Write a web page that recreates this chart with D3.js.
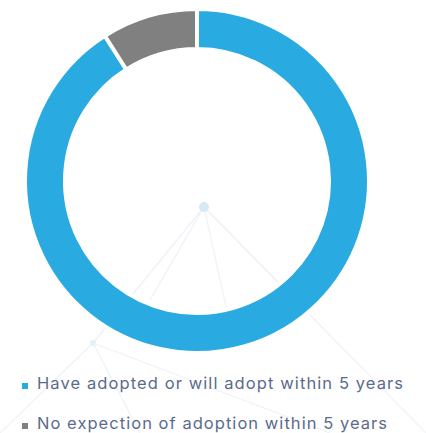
<!DOCTYPE html>
<html>
<head>
<meta charset="utf-8">
<script src="https://cdn.jsdelivr.net/npm/d3@7"></script>
<style>
  html, body { margin: 0; padding: 0; background: #fff; }
  svg { display: block; }
</style>
</head>
<body>
<svg id="chart"></svg>
<script>
const categories = ['Have adopted or will adopt within 5 years', 'No expection of adoption within 5 years'];
const values = [91, 9];
const colors = ['#29abe2', '#808080'];

const width = 426, height = 433;
const cx = 197, cy = 181;

const svg = d3.select('#chart')
    .attr('width', width)
    .attr('height', height);

// faint background network decoration
const deco = svg.append('g')
    .attr('stroke', '#eef2f7')
    .attr('stroke-width', 1.2)
    .attr('fill', 'none');
const hub = [204, 207];
[[150, 300], [93, 343], [236, 352], [278, 282], [426, 433]].forEach(p => {
    deco.append('line').attr('x1', hub[0]).attr('y1', hub[1]).attr('x2', p[0]).attr('y2', p[1]);
});
deco.append('line').attr('x1', 93).attr('y1', 343).attr('x2', 0).attr('y2', 433);
deco.append('line').attr('x1', 93).attr('y1', 343).attr('x2', 140).attr('y2', 433);
deco.append('line').attr('x1', 93).attr('y1', 343).attr('x2', 330).attr('y2', 433);
svg.append('circle').attr('cx', hub[0]).attr('cy', hub[1]).attr('r', 5).attr('fill', '#d6e9f4');
svg.append('circle').attr('cx', 93).attr('cy', 343).attr('r', 3).attr('fill', '#e6f0f7');

const g = svg.append('g')
    .attr('transform', `translate(${cx},${cy})`);

const pie = d3.pie().value(d => d).sort(null);
const arc = d3.arc().innerRadius(132).outerRadius(172);

g.selectAll('path')
    .data(pie(values))
    .enter()
    .append('path')
    .attr('d', arc)
    .attr('fill', (d, i) => colors[i])
    .attr('stroke', 'white')
    .style('stroke-width', '4px');

// legend
const legend = svg.append('g');
const rowY = [389, 429];
const rowW = [366, 350];
categories.forEach((c, i) => {
    legend.append('rect')
        .attr('x', 22)
        .attr('y', rowY[i] - 6)
        .attr('width', 6)
        .attr('height', 6)
        .attr('fill', colors[i]);
    legend.append('text')
        .attr('x', 37)
        .attr('y', rowY[i])
        .attr('font-family', 'Inter, "Open Sans", sans-serif')
        .attr('font-size', '16.5px')
        .attr('fill', '#5b6b8c')
        .attr('textLength', rowW[i])
        .attr('lengthAdjust', 'spacing')
        .text(c);
});
</script>
</body>
</html>
